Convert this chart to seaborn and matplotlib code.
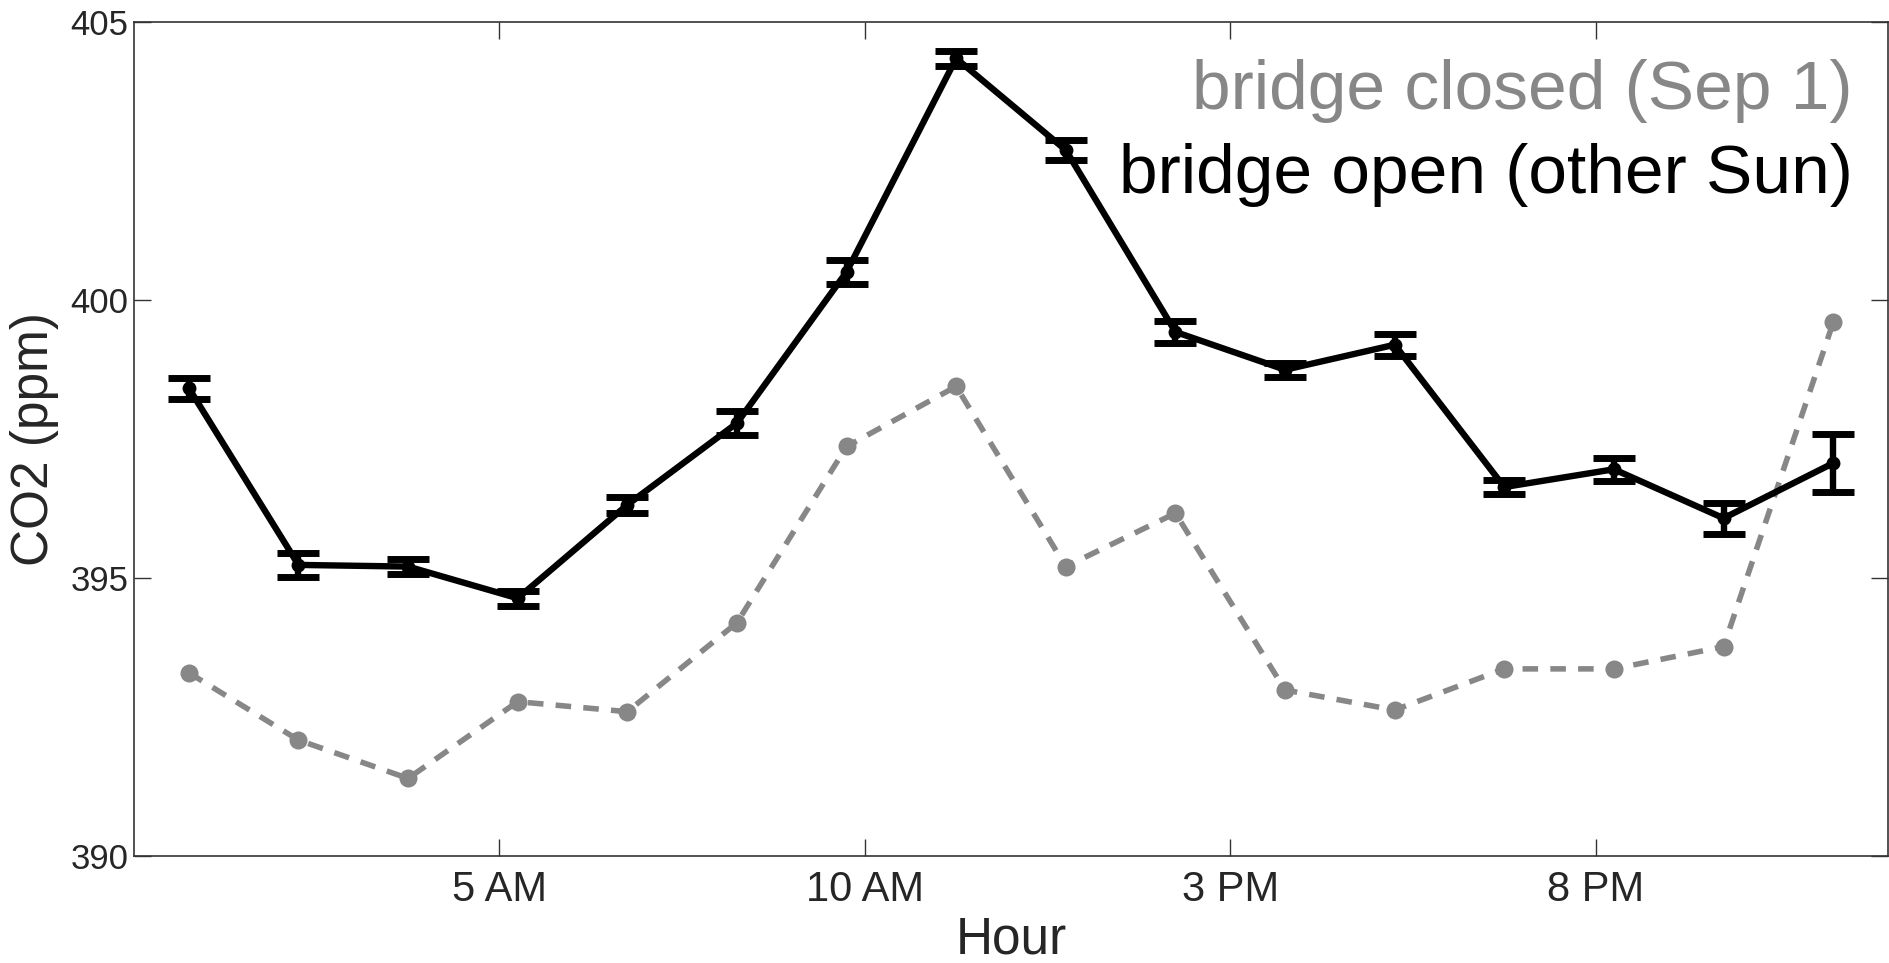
import matplotlib
matplotlib.use("Agg")
import matplotlib.pyplot as plt
import seaborn as sns
import pandas as pd

# ---- data ----
hours = [0.75, 2.25, 3.75, 5.25, 6.75, 8.25, 9.75, 11.25,
         12.75, 14.25, 15.75, 17.25, 18.75, 20.25, 21.75, 23.25]
open_co2 = [398.41, 395.23, 395.20, 394.63, 396.31, 397.78, 400.50, 404.34,
            402.69, 399.42, 398.74, 399.19, 396.63, 396.95, 396.07, 397.06]
open_err = [0.19, 0.22, 0.14, 0.13, 0.15, 0.22, 0.21, 0.14,
            0.18, 0.20, 0.13, 0.20, 0.13, 0.21, 0.28, 0.52]
closed_co2 = [393.29, 392.08, 391.39, 392.77, 392.59, 394.19, 397.36, 398.44,
              395.20, 396.16, 392.98, 392.62, 393.36, 393.36, 393.76, 399.59]
xtick_pos = [5, 10, 15, 20]
xtick_labels = ["5 AM", "10 AM", "3 PM", "8 PM"]
ytick_pos = [390, 395, 400, 405]
label_closed = "bridge closed (Sep 1)"
label_open = "bridge open (other Sun)"

sns.set_theme(style="white")
plt.rcParams["font.family"] = ["Liberation Sans", "DejaVu Sans"]

fig = plt.figure(figsize=(18.9, 9.63), dpi=100)
ax = fig.add_axes([134 / 1890, (963 - 855.7) / 963, (1888 - 134) / 1890, (855.7 - 21.7) / 963])

grey = "#878787"
df_closed = pd.DataFrame({"hour": hours, "co2": closed_co2})
df_open = pd.DataFrame({"hour": hours, "co2": open_co2})

sns.lineplot(data=df_closed, x="hour", y="co2", ax=ax, color=grey,
             linewidth=4.0, linestyle=(0, (2.8, 2.2)), marker="o",
             markersize=13, markeredgewidth=0, markerfacecolor=grey, zorder=2)
sns.lineplot(data=df_open, x="hour", y="co2", ax=ax, color="black",
             linewidth=4.6, marker="o", markersize=10, markeredgewidth=0,
             markerfacecolor="black", zorder=3)
ax.errorbar(hours, open_co2, yerr=open_err, fmt="none", ecolor="black",
            elinewidth=4.6, capsize=15, capthick=5.0, zorder=4)

ax.set_xlim(0, 24)
ax.set_ylim(390, 405)
ax.set_xticks(xtick_pos)
ax.set_xticklabels(xtick_labels)
ax.set_yticks(ytick_pos)
ax.tick_params(axis="x", direction="in", length=12, width=1, color="#333333",
               labelsize=30, pad=10, top=True, bottom=True)
ax.tick_params(axis="y", direction="in", length=12, width=1, color="#333333",
               labelsize=25, pad=4, left=True, right=True)
for s in ax.spines.values():
    s.set_visible(True)
    s.set_color("#333333")
    s.set_linewidth(1.2)

ax.set_xlabel("Hour", fontsize=37, labelpad=4)
ax.set_ylabel("CO2 (ppm)", fontsize=37, labelpad=8)
ax.grid(False)

ax.text(0.980, 0.895, label_closed, transform=ax.transAxes, ha="right",
        va="baseline", fontsize=50, color=grey)
ax.text(0.980, 0.795, label_open, transform=ax.transAxes, ha="right",
        va="baseline", fontsize=50, color="black")

fig.savefig("out.png", dpi=100)
